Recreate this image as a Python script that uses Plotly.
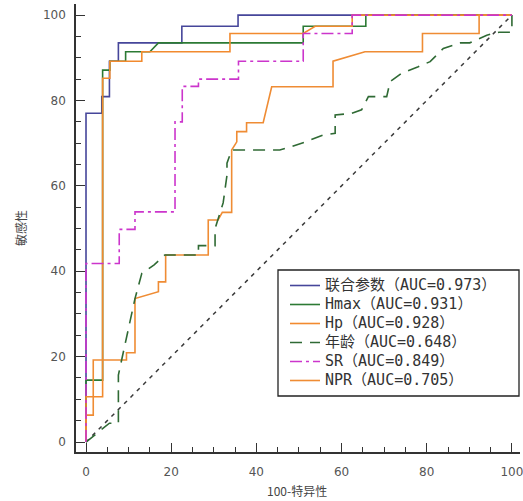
import plotly.graph_objects as go

# ROC curves: (100 - specificity, sensitivity)
combo_pts = [(0, 0), (0, 77), (3.7, 77), (3.7, 80.9), (5.5, 80.9), (5.5, 89.2), (7.6, 89.2),
             (7.6, 93.5), (22.5, 93.5), (22.5, 97.4), (35.7, 97.4), (35.7, 100), (100, 100)]
hmax_pts = [(0, 0), (0, 14.5), (3.9, 14.5), (3.9, 87.1), (5.6, 87.1), (5.6, 89.2), (9.3, 89.2),
            (9.3, 91.4), (15.0, 91.4), (17.0, 93.5), (51.0, 93.5), (51.0, 97.4), (65.7, 97.4),
            (65.7, 100), (100, 100)]
hp_pts = [(0, 0), (0, 10.6), (3.9, 10.6), (3.9, 85.2), (5.6, 85.2), (5.6, 89.2), (13.1, 89.2),
          (13.1, 91.4), (33.8, 91.4), (33.8, 95.7), (51.0, 95.7), (53.8, 97.4), (62.5, 97.4),
          (62.5, 100), (100, 100)]
age_pts = [(0, 0), (5.5, 4.4), (7.6, 4.4), (7.6, 15.7), (11.5, 33.6), (13.1, 39.5), (16.0, 41.5),
           (18.5, 43.8), (26.4, 43.8), (26.4, 46.0), (30.3, 46.0), (30.3, 50.0), (32.2, 56.0),
           (33.1, 62.5), (33.1, 65.3), (34.2, 68.4), (45.5, 68.4), (48.3, 69.2), (51.8, 70.4),
           (55.6, 71.9), (58.5, 72.3), (58.5, 76.6), (62.4, 77.0), (64.7, 77.8), (66.3, 80.9),
           (70.6, 80.9), (71.4, 84.4), (74.1, 86.4), (78.0, 87.9), (80.8, 89.1), (83.9, 92.2),
           (87.8, 93.5), (90.1, 93.5), (94.1, 95.3), (97.0, 96.0), (100, 96.0), (100, 100)]
sr_pts = [(0, 0), (0, 41.8), (7.8, 41.8), (7.8, 49.8), (11.5, 49.8), (11.5, 53.9), (20.9, 53.9),
          (20.9, 75.0), (22.6, 75.0), (22.6, 83.3), (26.4, 83.3), (26.4, 85.0), (35.8, 85.0),
          (35.8, 89.2), (51.0, 89.2), (51.0, 95.7), (62.5, 95.7), (62.5, 100), (100, 100)]
npr_pts = [(0, 0), (0, 6.3), (1.7, 6.3), (1.7, 19.2), (9.5, 19.2), (9.5, 20.9), (11.5, 20.9),
           (11.5, 33.6), (17.0, 35.2), (17.0, 37.5), (18.7, 37.5), (18.7, 43.8), (28.7, 43.8),
           (28.7, 52.0), (31.0, 52.0), (32.0, 53.8), (34.2, 53.8), (34.2, 68.4), (35.4, 70.3),
           (35.4, 72.7), (37.7, 72.7), (37.7, 74.8), (41.6, 74.8), (43.6, 83.2), (58.0, 83.2),
           (58.0, 89.2), (65.5, 91.4), (79.0, 91.4), (79.0, 95.7), (92.3, 95.7), (92.3, 100),
           (100, 100)]
diag_x = [0, 100]
diag_y = [0, 100]

names = ["联合参数（AUC=0.973）", "Hmax（AUC=0.931）", "Hp（AUC=0.928）",
         "年龄（AUC=0.648）", "SR（AUC=0.849）", "NPR（AUC=0.705）"]

x_ticks = [0, 20, 40, 60, 80, 100]
y_ticks = [0, 20, 40, 60, 80, 100]

W, H = 523, 501
L, R, T, B = 76, 3, 4, 49
PW, PH = W - L - R, H - T - B


def xs(p):
    return [a for a, _ in p]


def ys(p):
    return [b for _, b in p]


def big(t):
    return ('<span style="font-family:\'DejaVu Sans Mono\',\'Noto Sans CJK SC\',monospace;'
            'font-size:15px">' + t + '</span>')


fig = go.Figure()
fig.add_trace(go.Scatter(x=diag_x, y=diag_y, mode="lines", showlegend=False, hoverinfo="skip",
                         line=dict(color="#3a3a3a", width=1.5, dash="4px,5px")))

series = [
    (combo_pts, names[0], "#46469a", "solid", 1),
    (hmax_pts, names[1], "#2c7a34", "solid", 2),
    (hp_pts, names[2], "#f28a2e", "solid", 3),
    (npr_pts, names[5], "#ef8c34", "solid", 6),
    (age_pts, names[3], "#2f6a34", "12px,8px", 4),
    (sr_pts, names[4], "#cc35cc", "12px,4px,3px,4px", 5),
]
for pts, nm, col, dash, rank in series:
    fig.add_trace(go.Scatter(x=xs(pts), y=ys(pts), mode="lines", name=big(nm), legendrank=rank,
                             line=dict(color=col, width=1.6, dash=dash)))


def px2x(p):
    return (p - L) / PW


def px2y(p):
    return (H - B - p) / PH


fig.add_shape(type="rect", xref="paper", yref="paper",
              x0=px2x(278), x1=px2x(519), y0=px2y(396), y1=px2y(270),
              line=dict(color="#222", width=1.3), fillcolor="white", layer="above")

axis_common = dict(showgrid=False, zeroline=False, showline=True, linecolor="#333", linewidth=1.6,
                   ticks="inside", ticklen=9, tickwidth=1.4, tickcolor="#333",
                   tickfont=dict(family="DejaVu Sans", size=12, color="#555"),
                   minor=dict(dtick=5, ticks="inside", ticklen=5, tickwidth=1.2, tickcolor="#333"),
                   mirror=False, fixedrange=True, automargin=False, ticklabeloverflow="allow")

fig.update_xaxes(range=[-2.35, 101.9], tickvals=x_ticks, ticktext=[str(v) for v in x_ticks],
                 ticklabelstandoff=8, **axis_common)
fig.update_yaxes(range=[-2.34, 102.6], tickvals=y_ticks, ticktext=[str(v) for v in y_ticks],
                 ticklabelstandoff=6, **axis_common)

fig.add_annotation(text="敏感性", xref="paper", yref="paper", x=px2x(20), y=px2y(228),
                   xanchor="center", yanchor="middle",
                   textangle=-90, showarrow=False,
                   font=dict(family="Noto Sans CJK SC", size=12, color="#444"))
fig.add_annotation(text="100-特异性", xref="paper", yref="paper", x=px2x(297), y=px2y(490),
                   xanchor="center", yanchor="middle", showarrow=False,
                   font=dict(family="Noto Sans CJK SC", size=12, color="#444"))

fig.update_layout(
    width=W, height=H, margin=dict(l=L, r=R, t=T, b=B, autoexpand=False),
    paper_bgcolor="white", plot_bgcolor="white",
    showlegend=True,
    legend=dict(x=px2x(285), y=px2y(271), xanchor="left", yanchor="top",
                bgcolor="rgba(0,0,0,0)", borderwidth=0,
                font=dict(family="DejaVu Sans Mono, Noto Sans CJK SC", size=12, color="#333"),
                traceorder="normal"),
)

fig.write_html("out.html", config={"displayModeBar": False},
               post_script="document.body.style.margin='0px';")
